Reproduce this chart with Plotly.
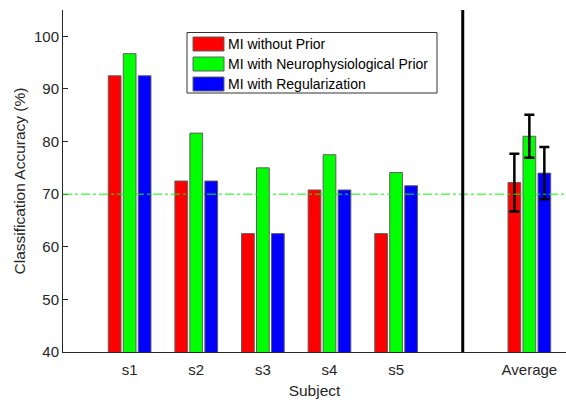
import plotly.graph_objects as go

subjects = ["s1", "s2", "s3", "s4", "s5"]
subject_x = [1, 2, 3, 4, 5]
average_x = [7]
tick_vals = [1, 2, 3, 4, 5, 7]
tick_text = ["s1", "s2", "s3", "s4", "s5", "Average"]

series_names = ["MI without Prior", "MI with Neurophysiological Prior", "MI with Regularization"]
series_colors = ["#ff0000", "#00ff00", "#0000ff"]

no_prior = [92.5, 72.5, 62.5, 70.8, 62.5]
neuro_prior = [96.7, 81.6, 75.0, 77.5, 74.1]
regularization = [92.5, 72.5, 62.5, 70.8, 71.6]

avg_values = [72.2, 81.0, 74.0]
avg_errors = [5.5, 4.1, 4.95]

chance_level = 70
divider_x = 6

W, H = 566, 400
ML, MR, MT, MB = 63, 0, 10, 48
PW, PH = W - ML - MR, H - MT - MB
FONT = "Arial, Liberation Sans, sans-serif"

def px_x(p):
    return (p - ML) / PW

def px_y(p):
    return (H - MB - p) / PH

fig = go.Figure()
all_series = [no_prior, neuro_prior, regularization]
bar_line = dict(color="#606060", width=1)
for i, (name, col, vals) in enumerate(zip(series_names, series_colors, all_series)):
    fig.add_trace(go.Bar(
        x=subject_x, y=vals, name=name, offsetgroup=str(i),
        marker=dict(color=col, line=bar_line), showlegend=False,
    ))
    fig.add_trace(go.Bar(
        x=average_x, y=[avg_values[i]], name=name, offsetgroup=str(i),
        marker=dict(color=col, line=bar_line), showlegend=False,
        error_y=dict(type="data", array=[avg_errors[i]], color="black",
                     thickness=2.5, width=5, visible=True),
    ))

fig.add_shape(type="line", xref="paper", yref="y", x0=0, x1=1,
              y0=chance_level, y1=chance_level,
              line=dict(color="#00ff00", width=1, dash="dashdot"))
fig.add_shape(type="line", xref="x", yref="paper", x0=divider_x, x1=divider_x,
              y0=0, y1=1, line=dict(color="black", width=3))

# legend box
fig.add_shape(type="rect", xref="paper", yref="paper",
              x0=px_x(187), x1=px_x(437), y0=px_y(93), y1=px_y(32.5),
              line=dict(color="#333333", width=1), fillcolor="white", layer="above")
row_centers = [44, 64, 84]
for name, col, yc in zip(series_names, series_colors, row_centers):
    fig.add_shape(type="rect", xref="paper", yref="paper",
                  x0=px_x(193), x1=px_x(224), y0=px_y(yc + 7), y1=px_y(yc - 7),
                  line=dict(color="#606060", width=1), fillcolor=col, layer="above")
    fig.add_annotation(xref="paper", yref="paper", x=px_x(226), y=px_y(yc),
                       text=name, showarrow=False, xanchor="left", yanchor="middle",
                       font=dict(size=14, color="black", family=FONT))

fig.update_layout(
    width=W, height=H,
    margin=dict(l=ML, r=MR, t=MT, b=MB),
    plot_bgcolor="white", paper_bgcolor="white",
    barmode="group", bargap=0.325, bargroupgap=0.15,
    font=dict(family=FONT, size=15, color="#262626"),
    xaxis=dict(range=[0, 7.55], tickvals=tick_vals, ticktext=tick_text,
               showgrid=False, zeroline=False, showline=True, linecolor="#262626",
               linewidth=1, ticks="", automargin=False, ticklabelstandoff=4,
               title=dict(text="Subject", standoff=8, font=dict(size=15.5)),
               tickfont=dict(size=15)),
    yaxis=dict(range=[40, 105], tickvals=[40, 50, 60, 70, 80, 90, 100],
               showgrid=False, zeroline=False, showline=True, linecolor="#262626",
               linewidth=1, ticks="inside", ticklen=5, tickcolor="#262626",
               automargin=False,
               title=dict(text="Classification Accuracy (%)", standoff=4, font=dict(size=15.5)),
               tickfont=dict(size=15)),
)

fig.write_html("out.html", config={"displayModeBar": False},
               post_script="document.body.style.margin='0';")
